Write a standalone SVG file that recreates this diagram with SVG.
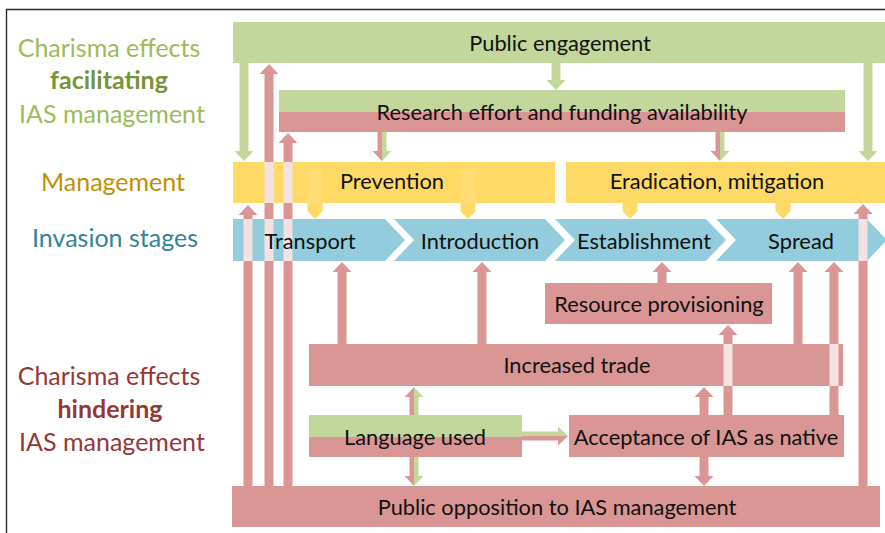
<svg xmlns="http://www.w3.org/2000/svg" width="885" height="533" viewBox="0 0 885 533">
<style>
  text { font-family: Lato, "Open Sans", "Liberation Sans", sans-serif; text-anchor: middle; }
  .nt { font-size: 21.8px; fill: #111; }
  .lab { font-size: 25px; }
  .g { fill: #c3d69b; }
  .r { fill: #d99694; }
  .y { fill: #ffd966; }
  .yl { fill: #fedd74; }
  .b { fill: #93cddd; }
  .x { fill: #f4e2e2; }
</style>
<rect x="0" y="0" width="885" height="533" fill="#ffffff"/>
<path d="M6.5,533 V9.5 H885" fill="none" stroke="#2a2a2a" stroke-width="1.4"/>

<g id="labels">
  <text class="lab" x="109" y="57" fill="#9bbb59">Charisma effects</text>
  <text class="lab" x="109" y="89" fill="#77933c" font-weight="bold">facilitating</text>
  <text class="lab" x="112" y="123" fill="#9bbb59">IAS management</text>
  <text class="lab" x="113" y="191" fill="#bf9000">Management</text>
  <text class="lab" x="115" y="247" fill="#31849b">Invasion stages</text>
  <text class="lab" x="109" y="385" fill="#953735">Charisma effects</text>
  <text class="lab" x="110" y="418" fill="#953735" font-weight="bold">hindering</text>
  <text class="lab" x="112" y="451" fill="#953735">IAS management</text>
</g>

<g id="connectors">
  <!-- green from public engagement -->
  <path class="g" d="M239.5,63 V151 H234.5 L244,161 L253.5,151 H248.5 V63 Z"/>
  <path class="g" d="M551.5,63 V80 H546.5 L556,90 L565.5,80 H560.5 V63 Z"/>
  <path class="g" d="M863.5,63 V151 H858.5 L868,161 L877.5,151 H872.5 V63 Z"/>
  <!-- bicolor from research -->
  <path class="r" d="M377.5,132 V151 H372.5 L382,161 V132 Z"/>
  <path class="g" d="M382,132 V161 L391.5,151 H386.5 V132 Z"/>
  <path class="r" d="M715.5,132 V151 H710.5 L720,161 V132 Z"/>
  <path class="g" d="M720,132 V161 L729.5,151 H724.5 V132 Z"/>
  <!-- yellow management to stages -->
  <path class="y" d="M307.5,202 V211 L315,219 L322.5,211 V202 Z"/>
  <path class="y" d="M460.5,202 V211 L468,219 L475.5,211 V202 Z"/>
  <path class="y" d="M622.5,202 V211 L630,219 L637.5,211 V202 Z"/>
  <path class="y" d="M775.5,202 V211 L783,219 L790.5,211 V202 Z"/>
  <!-- red from public opposition (left) -->
  <path class="r" d="M243.5,486 V215 H238.5 L248,205 L257.5,215 H252.5 V486 Z"/>
  <path class="r" d="M264.5,486 V74 H259.5 L269,64 L278.5,74 H273.5 V486 Z"/>
  <path class="r" d="M283.5,486 V143 H278.5 L288,133 L297.5,143 H292.5 V486 Z"/>
  <!-- red from public opposition (right) -->
  <path class="r" d="M858.5,486 V214 H853.5 L863,204 L872.5,214 H867.5 V486 Z"/>
  <!-- increased trade to stages -->
  <path class="r" d="M337.5,344 V272 H332.5 L342,262 L351.5,272 H346.5 V344 Z"/>
  <path class="r" d="M477.5,344 V272 H472.5 L482,262 L491.5,272 H486.5 V344 Z"/>
  <path class="r" d="M793.5,344 V272 H788.5 L798,262 L807.5,272 H802.5 V344 Z"/>
  <!-- resource provisioning to establishment -->
  <path class="r" d="M657.5,283 V272 H652.5 L662,262 L671.5,272 H666.5 V283 Z"/>
  <!-- acceptance arrows -->
  <path class="r" d="M829.5,415 V272 H824.5 L834,262 L843.5,272 H838.5 V415 Z"/>
  <path class="r" d="M723.5,415 V335 H718.5 L728,325 L737.5,335 H732.5 V415 Z"/>
  <path class="r" d="M699.5,415 V397 H694.5 L704,387 L713.5,397 H708.5 V415 Z"/>
  <path class="r" d="M699.5,457 V476 H694.5 L704,486 L713.5,476 H708.5 V457 Z"/>
  <!-- language used arrows -->
  <path class="r" d="M409.5,415 V397 H404.5 L414,387 V415 Z"/>
  <path class="g" d="M414,387 L423.5,397 H418.5 V415 H414 Z"/>
  <path class="r" d="M409.5,457 V476 H404.5 L414,486 V457 Z"/>
  <path class="g" d="M414,486 L423.5,476 H418.5 V457 H414 Z"/>
  <path class="g" d="M522,431.5 H558 V426.5 L568,436 H522 Z"/>
  <path class="r" d="M522,436 H568 L558,445.5 V440.5 H522 Z"/>
</g>

<g id="public-engagement">
  <rect class="g" x="233" y="22" width="652" height="41"/>
  <text class="nt" x="560" y="51">Public engagement</text>
</g>
<g id="research-effort">
  <rect class="g" x="279" y="90" width="566" height="22"/>
  <rect class="r" x="279" y="112" width="566" height="20"/>
  <text class="nt" x="562" y="120">Research effort and funding availability</text>
</g>
<g id="prevention">
  <rect class="y" x="233" y="162" width="322" height="41"/>
  <rect class="x" x="264.5" y="162" width="9" height="41"/>
  <rect class="x" x="283.5" y="162" width="9" height="41"/>
  <rect class="yl" x="307.5" y="170" width="15" height="33"/>
  <rect class="yl" x="460.5" y="170" width="15" height="33"/>
  <text class="nt" x="392" y="189">Prevention</text>
</g>
<g id="eradication">
  <rect class="y" x="566" y="162" width="319" height="41"/>
  <text class="nt" x="717" y="189">Eradication, mitigation</text>
</g>
<g id="transport">
  <path class="b" d="M233,219 H385 L405,240 L385,261 H233 Z"/>
  <rect class="x" x="243.5" y="219" width="9" height="42"/>
  <rect class="x" x="264.5" y="219" width="9" height="42"/>
  <rect class="x" x="283.5" y="219" width="9" height="42"/>
  <text class="nt" x="310" y="249">Transport</text>
</g>
<g id="introduction">
  <path class="b" d="M394,219 H545 L565,240 L545,261 H394 L414,240 Z"/>
  <text class="nt" x="480" y="249">Introduction</text>
</g>
<g id="establishment">
  <path class="b" d="M555,219 H706 L726,240 L706,261 H555 L575,240 Z"/>
  <text class="nt" x="644" y="249">Establishment</text>
</g>
<g id="spread">
  <path class="b" d="M716,219 H867 L887,240 L867,261 H716 L736,240 Z"/>
  <rect class="x" x="858.5" y="219" width="9" height="42"/>
  <text class="nt" x="801" y="249">Spread</text>
</g>
<g id="resource-provisioning">
  <rect class="r" x="545" y="283" width="227" height="41"/>
  <text class="nt" x="659" y="312">Resource provisioning</text>
</g>
<g id="increased-trade">
  <rect class="r" x="309" y="344" width="534" height="42"/>
  <rect class="x" x="723.5" y="344" width="9" height="42"/>
  <rect class="x" x="829.5" y="344" width="9" height="42"/>
  <text class="nt" x="577" y="373">Increased trade</text>
</g>
<g id="language-used">
  <rect class="g" x="309" y="415" width="213" height="22"/>
  <rect class="r" x="309" y="437" width="213" height="20"/>
  <text class="nt" x="415" y="445">Language used</text>
</g>
<g id="acceptance">
  <rect class="r" x="569" y="415" width="275" height="42"/>
  <text class="nt" x="706" y="445">Acceptance of IAS as native</text>
</g>
<g id="public-opposition">
  <rect class="r" x="232" y="486" width="648" height="41"/>
  <text class="nt" x="557" y="515">Public opposition to IAS management</text>
</g>
</svg>
